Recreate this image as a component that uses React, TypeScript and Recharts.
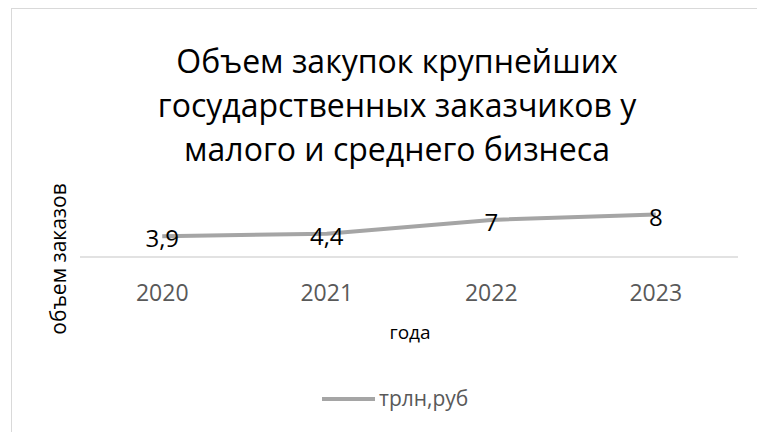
import React from 'react';
import { LineChart, Line, XAxis, YAxis, LabelList } from 'recharts';

const years = ['2020', '2021', '2022', '2023'];
const values = [3.9, 4.4, 7, 8];
const seriesName = 'трлн,руб';
const titleLines = ['Объем закупок крупнейших', 'государственных заказчиков у', 'малого и среднего бизнеса'];
const xAxisTitle = 'года';
const yAxisTitle = 'объем заказов';

const data = years.map((y, i) => ({ year: y, value: values[i] }));

const FONT = '"Open Sans", sans-serif';
const W = 757;
const H = 432;

const Tick = (props: any) => {
  const { x, y, payload } = props;
  return (
    <text x={x} y={y} dy={44} textAnchor="middle" fill="#595959" fontSize={23} fontFamily={FONT}>
      {payload.value}
    </text>
  );
};

const ValueLabel = (props: any) => {
  const { x, y, value } = props;
  return (
    <text x={x} y={y} dy={11} textAnchor="middle" fill="#000" fontSize={24} fontFamily={FONT}>
      {String(value).replace('.', ',')}
    </text>
  );
};

export default function App() {
  return (
    <div style={{ position: 'fixed', left: 0, top: 0, width: W, height: H, background: '#fff', overflow: 'hidden' }}>
      <div
        style={{
          position: 'absolute',
          left: 11,
          top: 8,
          right: -2,
          bottom: -2,
          borderTop: '1.5px solid #d9d9d9',
          borderLeft: '1.5px solid #d9d9d9',
        }}
      />
      <LineChart
        width={W}
        height={H}
        data={data}
        margin={{ top: 204, right: 19, bottom: 135, left: 80 }}
        style={{ position: 'absolute', left: 0, top: 0 }}
      >
        <XAxis
          dataKey="year"
          scale="band"
          height={40}
          tickLine={false}
          tickSize={0}
          tickMargin={0}
          axisLine={{ stroke: '#d9d9d9', strokeWidth: 1.5 }}
          tick={<Tick />}
          interval={0}
        />
        <YAxis hide width={0} domain={[0, 10]} />
        <Line
          type="linear"
          dataKey="value"
          name={seriesName}
          stroke="#a5a5a5"
          strokeWidth={4}
          dot={false}
          activeDot={false}
          isAnimationActive={false}
        >
          <LabelList dataKey="value" content={<ValueLabel />} />
        </Line>
      </LineChart>
      <svg width={W} height={H} style={{ position: 'absolute', left: 0, top: 0, pointerEvents: 'none' }}>
        {titleLines.map((t, i) => (
          <text
            key={i}
            x={397}
            y={73 + i * 44}
            textAnchor="middle"
            fill="#000"
            fontSize={32}
            fontFamily={FONT}
          >
            {t}
          </text>
        ))}
        <text x={410} y={339} textAnchor="middle" fill="#000" fontSize={19} fontFamily={FONT}>
          {xAxisTitle}
        </text>
        <text
          x={66}
          y={259}
          textAnchor="middle"
          fill="#000"
          fontSize={21}
          fontFamily={FONT}
          transform="rotate(-90, 66, 259)"
        >
          {yAxisTitle}
        </text>
        <line x1={322} x2={375} y1={399} y2={399} stroke="#a5a5a5" strokeWidth={4} />
        <text x={379} y={406} fill="#595959" fontSize={21} fontFamily={FONT}>
          {seriesName}
        </text>
      </svg>
    </div>
  );
}
